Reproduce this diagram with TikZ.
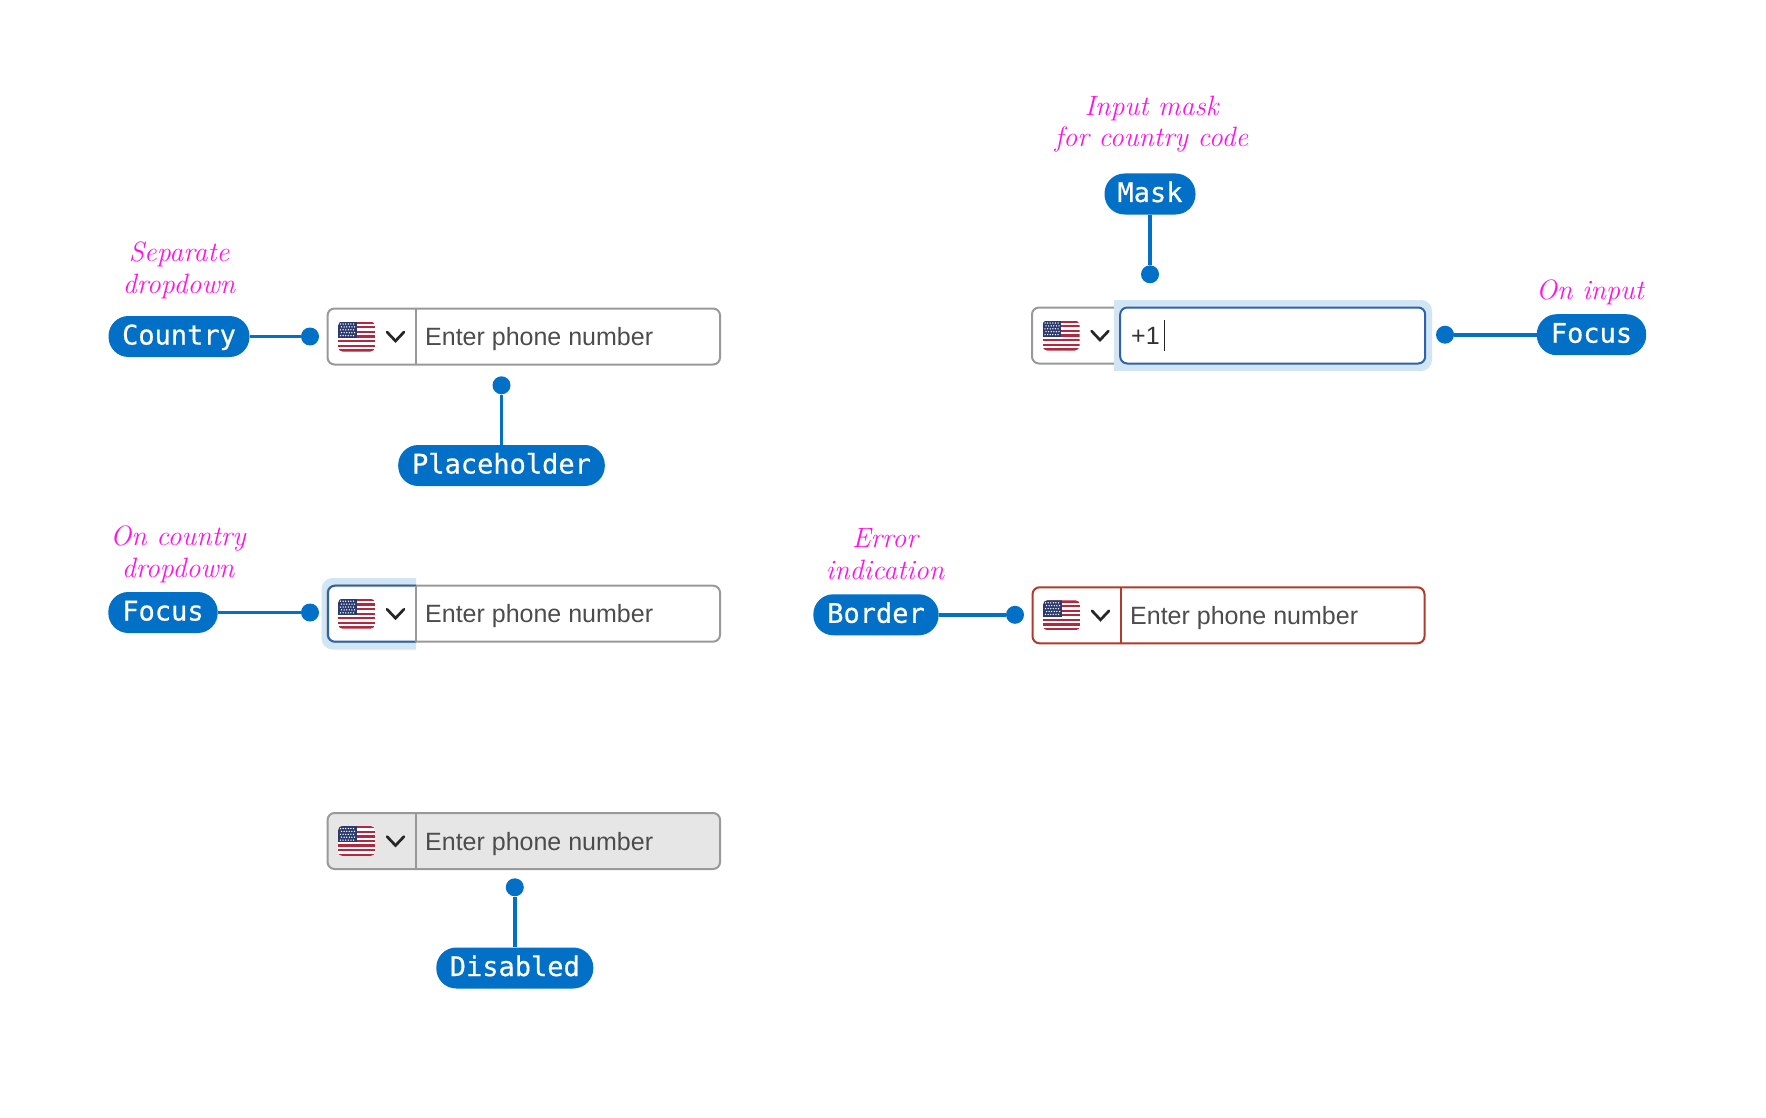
\documentclass[tikz,border=0pt]{standalone}
\usepackage{fontspec}
\newfontfamily\inputfont{Liberation Sans}
\newfontfamily\pillfont[FakeBold=0.6]{DejaVu Sans Mono}
\definecolor{brand}{HTML}{0170C6}
\definecolor{hand}{HTML}{FF14E6}
\definecolor{rimgray}{HTML}{999999}
\definecolor{halo}{HTML}{D2E5F4}
\definecolor{focusblue}{HTML}{2F62A8}
\definecolor{errorred}{HTML}{B23A2C}
\definecolor{disabledfill}{HTML}{E6E6E6}
\definecolor{flagblue}{HTML}{2B3A6E}
\definecolor{flagred}{HTML}{B2283F}
\tikzset{
  pill/.style={fill=brand,text=white,rounded corners=20pt,inner sep=0pt,minimum height=41pt,
    text height=16pt,text depth=0pt,align=center,font=\pillfont\fontsize{27}{27}\selectfont},
  knob/.style={circle,fill=brand,inner sep=0pt,minimum size=18pt},
  conn/.style={draw=brand,line width=3.8pt},
  fieldbox/.style={draw=rimgray,line width=2pt,rounded corners=7pt,inner sep=0pt,
    minimum width=392pt,minimum height=56pt},
  divider/.style={draw=rimgray,line width=2pt},
  fieldtext/.style={anchor=base west,inner sep=0pt,text=black!70,font=\inputfont\fontsize{25}{25}\selectfont},
  note/.style={anchor=base,inner sep=0pt,text=hand,align=center,
    font=\itshape\fontsize{28}{31.5}\selectfont},
  chevron/.style={draw=black!85,line width=2.7pt,line cap=round,line join=miter},
}
% flag and chevron: #1 field left edge, #2 field centre y
\newcommand{\flagchev}[2]{%
  \begin{scope}[shift={(#1,#2)}]
    \begin{scope}
      \clip[rounded corners=4.5pt] (11.5,-15) rectangle (48.5,15);
      \fill[white] (11.5,-15) rectangle (48.5,15);
      \foreach \s in {0,2,...,12}{
        \fill[flagred] (11.5,{-15+\s*30/13}) rectangle (48.5,{-15+(\s+1)*30/13});
      }
      \fill[flagblue] (11.5,-15) rectangle (30,1.2);
      \foreach \r in {0,...,4}{
        \foreach \c in {0,...,5}{
          \fill[white] ({14+\c*2.6+mod(\r,2)*1.0},{-12.5+\r*2.9}) circle (0.75pt);
        }
      }
    \end{scope}
    \draw[chevron] (60.5,-4.5) -- (69,4.5) -- (77.5,-4.5);
  \end{scope}}
\begin{document}
\begin{tikzpicture}[x=1pt,y=-1pt]
\useasboundingbox (0,0) rectangle (1766,1118);
\fill[white] (0,0) rectangle (1766,1118);

% ---- Field A
\node[fieldbox,minimum width=392.5pt] (fielda) at (523.8,336.5) {};
\coordinate (da1) at (416.2,308.5); \coordinate (da2) at (416.2,364.5);
\draw[divider] (da1) -- (da2);
\flagchev{326.5}{336.5}
\node[fieldtext] (texta) at (425,345.5) {Enter phone number};
\node[pill,minimum width=141pt] (country) at (179,336.5) {Country};
\node[knob] (knoba) at (310,336.5) {};
\draw[conn] (country) -- (knoba);
\node[pill,minimum width=206.6pt] (placeholder) at (501.5,465.5) {Placeholder};
\node[knob] (knobp) at (501.5,385.3) {};
\draw[conn] (placeholder) -- (knobp);
\node[note] (notea) at (179,293) {Separate\\dropdown};

% ---- Field B (input focus)
\node[fieldbox] (fieldb) at (1228,335.5) {};
\flagchev{1031}{335.5}
\path[fill=halo] (1114,300) [rounded corners=11pt] -- (1432,300) -- (1432,371) [sharp corners] -- (1114,371) -- cycle;
\node[draw=focusblue,fill=white,line width=2pt,rounded corners=7pt,inner sep=0pt,minimum width=305pt,minimum height=56pt] (inputb) at (1272.7,335.5) {};
\node[fieldtext,text=black!80] (textb) at (1131,344.5) {+1};
\coordinate (caret1) at (1164,320); \coordinate (caret2) at (1164,351);
\draw[black!85,line width=1pt] (caret1) -- (caret2);
\node[pill,minimum width=91pt] (mask) at (1150,194) {Mask};
\node[knob] (knobm) at (1150,274.3) {};
\draw[conn] (mask) -- (knobm);
\node[pill,minimum width=109.4pt] (focusb) at (1591.5,334.7) {Focus};
\node[knob] (knobf) at (1445,334.7) {};
\draw[conn] (focusb) -- (knobf);
\node[note] (noteb) at (1151.5,146.7) {Input mask\\for country code};
\node[note] (notec) at (1590,299) {On input};

% ---- Field C (dropdown focus)
\path[fill=halo] (416,578) [rounded corners=11pt] -- (321.5,578) -- (321.5,649.5) [sharp corners] -- (416,649.5) -- cycle;
\node[fieldbox,minimum width=392.5pt] (fieldc) at (523.8,613.7) {};
\path[fill=white,draw=focusblue,line width=2pt] (416,585.7) [rounded corners=7pt] -- (328,585.7) -- (328,641.7) [sharp corners] -- (416,641.7);
\coordinate (dc1) at (416.2,585.7); \coordinate (dc2) at (416.2,641.7);
\draw[divider] (dc1) -- (dc2);
\flagchev{326.5}{613.7}
\node[fieldtext] (textc) at (425,622.7) {Enter phone number};
\node[pill,minimum width=109.4pt] (focusc) at (163,612.5) {Focus};
\node[knob] (knobc) at (310,612.5) {};
\draw[conn] (focusc) -- (knobc);
\node[note] (noted) at (178,577) {On country\\dropdown};

% ---- Field D (error)
\node[fieldbox,draw=errorred] (fieldd) at (1228.5,615.3) {};
\coordinate (dd1) at (1121,587.3); \coordinate (dd2) at (1121,643.3);
\draw[divider,draw=errorred] (dd1) -- (dd2);
\flagchev{1031.5}{615.3}
\node[fieldtext] (textd) at (1130,624.3) {Enter phone number};
\node[pill,minimum width=125.3pt] (border) at (876,614.8) {Border};
\node[knob] (knobd) at (1015,614.8) {};
\draw[conn] (border) -- (knobd);
\node[note] (notee) at (885,579) {Error\\indication};

% ---- Field E (disabled)
\node[fieldbox,fill=disabledfill,minimum width=392.5pt] (fielde) at (523.8,841) {};
\coordinate (de1) at (416.2,813); \coordinate (de2) at (416.2,869);
\draw[divider] (de1) -- (de2);
\flagchev{326.5}{841}
\node[fieldtext] (texte) at (425,850) {Enter phone number};
\node[pill,minimum width=157pt] (disabled) at (514.8,968) {Disabled};
\node[knob] (knobe) at (514.8,887.3) {};
\draw[conn] (disabled) -- (knobe);
\end{tikzpicture}
\end{document}
